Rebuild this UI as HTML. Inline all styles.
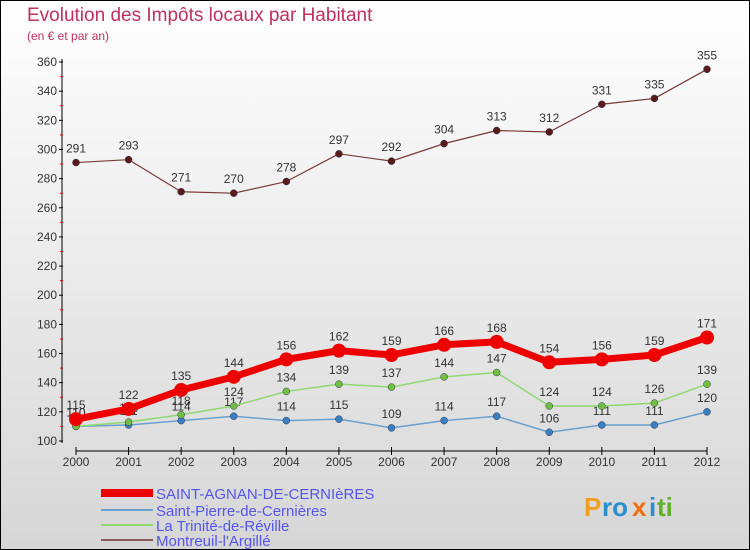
<!DOCTYPE html>
<html><head><meta charset="utf-8"><style>
body{margin:0}
#c{width:748px;height:548px;border:1px solid #000;background:linear-gradient(#fff,#d6d6d6);position:relative;overflow:hidden;font-family:"Liberation Sans",sans-serif}
svg text{font-family:"Liberation Sans",sans-serif}
</style></head><body>
<div id="c">
<svg id="s" width="748" height="548">
<text x="26" y="20" font-size="19" fill="#c0305e">Evolution des Impôts locaux par Habitant</text>
<text x="26" y="39" font-size="12" fill="#c0305e">(en € et par an)</text>
<g id="axes"></g><g id="series"></g><g id="legend"></g>
<g font-size="26" font-weight="bold">
<text x="583" y="515" fill="#f0a020">P</text><text x="601" y="515" fill="#2a8fd0">ro</text><text x="631" y="515" fill="#f07010">x</text><text x="648" y="515" fill="#2a8fd0">i</text><text x="656" y="515" fill="#60b030">ti</text>
</g>
</svg></div>
<script>
const years=[2000,2001,2002,2003,2004,2005,2006,2007,2008,2009,2010,2011,2012];
const yTicks=[100,120,140,160,180,200,220,240,260,280,300,320,340,360];
const saintAgnan=[115,122,135,144,156,162,159,166,168,154,156,159,171];
const saintPierre=[110,111,114,117,114,115,109,114,117,106,111,111,120];
const laTrinite=[110,113,118,124,134,139,137,144,147,124,124,126,139];
const montreuil=[291,293,271,270,278,297,292,304,313,312,331,335,355];
const names=["SAINT-AGNAN-DE-CERNIèRES","Saint-Pierre-de-Cernières","La Trinité-de-Réville","Montreuil-l'Argillé"];
const NS="http://www.w3.org/2000/svg";
const X=i=>75+i*(706-75)/(years.length-1);
const Y=v=>440-(v-100)*(440-61)/260;
function mk(p,t,a){const e=document.createElementNS(NS,t);for(const k in a)e.setAttribute(k,a[k]);p.appendChild(e);return e;}
const ax=document.getElementById('axes');
let l=mk(ax,'line',{x1:61,y1:58,x2:61,y2:442,stroke:'#000'});


yTicks.forEach((v,i)=>{
 mk(ax,'line',{x1:58,y1:Y(v),x2:62,y2:Y(v),stroke:'#000'});
 if(i<yTicks.length-1) mk(ax,'line',{x1:59,y1:Y(v+10),x2:62,y2:Y(v+10),stroke:'#e00'});
 const t=mk(ax,'text',{x:56,y:Y(v)+4,'font-size':12,'text-anchor':'end',fill:'#333'});t.textContent=v;
 
 
});
l=mk(ax,'line',{x1:75,y1:450,x2:706,y2:450,stroke:'#000'});


years.forEach((y,i)=>{
 mk(ax,'line',{x1:X(i),y1:446,x2:X(i),y2:454,stroke:'#000'});
 const t=mk(ax,'text',{x:X(i),y:465,'font-size':12,'text-anchor':'middle',fill:'#333'});t.textContent=y;
 
 
});
const sg=document.getElementById('series');
const defs=[[montreuil,'#7a3a3a',1.2,3.5,'#5a1a1a','montreuil'],[saintPierre,'#6aa0d0',1.5,3.5,'#3a80c0','saint-pierre'],[laTrinite,'#90d870',1.5,3.5,'#70c040','la-trinite'],[saintAgnan,'#ee0000',7,7,'#ee0000','saint-agnan']];
defs.forEach(([d,c,w,r,fc,n])=>{
 const g=mk(sg,'g',{});
 
 
 mk(g,'polyline',{points:d.map((v,i)=>X(i)+','+Y(v)).join(' '),fill:'none',stroke:c,'stroke-width':w,'stroke-linejoin':'round'});
 d.forEach((v,i)=>{
  const p=mk(g,'circle',{cx:X(i),cy:Y(v),r:r,fill:fc,stroke:n=='saint-agnan'?'none':'#335',"stroke-width":0.5});
  
  
  const t=mk(g,'text',{x:X(i),y:Y(v)-10,'font-size':12,'text-anchor':'middle',fill:'#333'});t.textContent=v;
  
  
 });
});
const lg=document.getElementById('legend');
const lc=[['#ee0000',8],['#6aa0d0',2],['#90d870',2],['#8a5a5a',2]];
names.forEach((n,i)=>{
 const y=[492,509,524,539][i];
 const g=mk(lg,'g',{});
 
 
 mk(g,'line',{x1:100,y1:y,x2:152,y2:y,stroke:lc[i][0],'stroke-width':lc[i][1]});
 const t=mk(g,'text',{x:155,y:y+6,'font-size':15,fill:'#5555ee'});t.textContent=n;
});
</script>
</body></html>
